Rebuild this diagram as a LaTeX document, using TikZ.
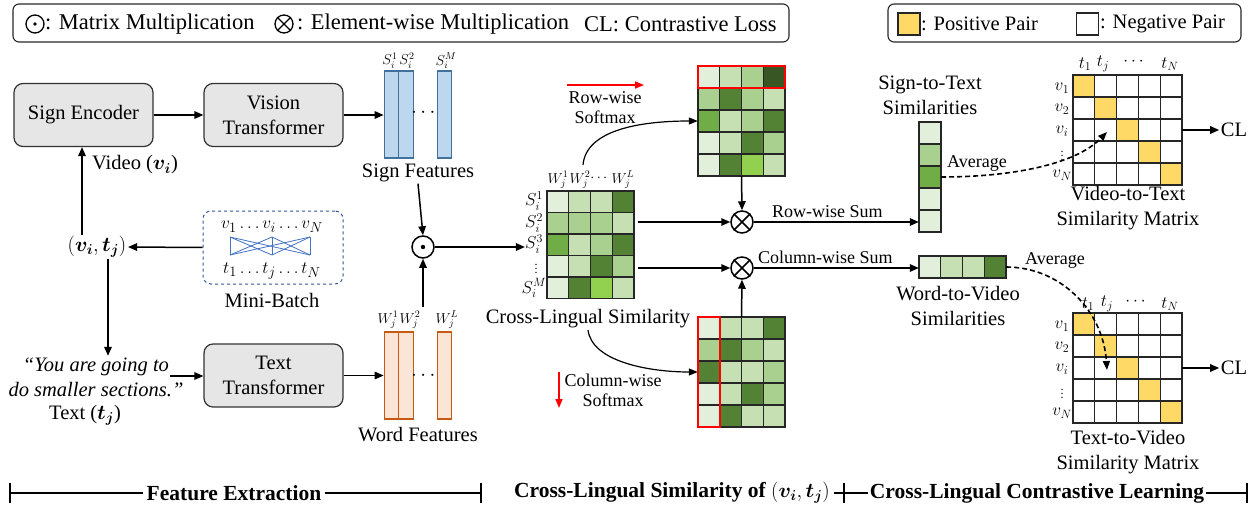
\documentclass[tikz,border=0pt]{standalone}
\usepackage{amsmath}
\usepackage{bm}
\usepackage{fontspec}
\setmainfont{Liberation Serif}
\usetikzlibrary{arrows.meta}
\definecolor{ga}{HTML}{E2EFDA}
\definecolor{gb}{HTML}{C6E0B4}
\definecolor{gc}{HTML}{A9D08E}
\definecolor{gd}{HTML}{70AD47}
\definecolor{ge}{HTML}{548235}
\definecolor{gf}{HTML}{375623}
\definecolor{gl}{HTML}{92D050}
\definecolor{yel}{HTML}{FFD966}
\definecolor{bfill}{HTML}{BDD7EE}
\definecolor{bline}{HTML}{41719C}
\definecolor{ofill}{HTML}{FBE5D6}
\definecolor{oline}{HTML}{C55A11}
\definecolor{boxgray}{HTML}{E6E6E6}
\definecolor{mbblue}{HTML}{2F5597}
\definecolor{lineblue}{HTML}{4472C4}
\newcommand{\fmain}{\fontsize{20.5}{25}\selectfont}
\newcommand{\fsmall}{\fontsize{18}{20}\selectfont}
\newcommand{\flab}{\fontsize{14.4}{17}\selectfont}
\newcommand{\fbig}{\fontsize{17.28}{19}\selectfont}
\newcommand{\fdots}{\fontsize{12}{14}\selectfont}
\newcommand{\flegA}{\fontsize{22.5}{25}\selectfont}
\newcommand{\flegB}{\fontsize{20.5}{24}\selectfont}
\newcommand{\fbar}{\fontsize{21.5}{24}\selectfont\bfseries}
\newcommand{\cellrow}[5]{\foreach \cellc [count=\kk from 0] in {#5} {\draw[cellline, fill=\cellc] ({#1+\kk*#3},#2) rectangle ++(#3,#4);}}
\newcommand{\cellcol}[5]{\foreach \cellc [count=\kk from 0] in {#5} {\draw[cellline, fill=\cellc] (#1,{#2+\kk*#4}) rectangle ++(#3,#4);}}
\newcommand{\simmat}[2]{\foreach \rr in {0,...,4} {\foreach \ccol in {0,...,4} {\ifnum\rr=\ccol\def\cellf{yel}\else\def\cellf{white}\fi \draw[cellline, fill=\cellf] ({#1+\ccol*21.8},{#2+\rr*22}) rectangle ++(21.8,22);}}}
\begin{document}
\begin{tikzpicture}[x=1pt, y=-1pt, font=\fmain, inner sep=1.5pt,
  arr/.style={line width=1.5pt, -{Triangle[length=9pt,width=7.5pt]}},
  thinarr/.style={line width=1.2pt, -{Triangle[length=9pt,width=7pt]}},
  redarr/.style={red, line width=1.6pt, -{Triangle[length=9pt,width=7pt]}},
  dasharr/.style={line width=1.6pt, dash pattern=on 5pt off 3pt, -{Triangle[length=9pt,width=7pt]}},
  blk/.style={draw=black!80, line width=1.2pt, fill=boxgray, rounded corners=9pt, minimum width=139pt, minimum height=63pt, align=center},
  cellline/.style={draw=black!85, line width=1.1pt},
  sbar/.style={draw=bline, fill=bfill, line width=1.2pt, minimum width=14.5pt, minimum height=87pt, inner sep=0pt},
  wbar/.style={draw=oline, fill=ofill, line width=1.2pt, minimum width=14.5pt, minimum height=87pt, inner sep=0pt},
  op/.style={circle, draw, line width=1.5pt, minimum size=22pt, inner sep=0pt},
  lop/.style={circle, draw, line width=1.3pt, minimum size=18pt, inner sep=0pt},
  area/.style={inner sep=0pt},
  lab/.style={font=\flab, inner sep=0pt},
  blab/.style={font=\fbig, inner sep=0pt},
  dlab/.style={font=\fdots, inner sep=0pt},
  legA/.style={font=\flegA, anchor=west, inner sep=0pt},
  legB/.style={font=\flegB, anchor=west, inner sep=0pt},
  legbox/.style={draw=black!85, line width=1.1pt, rounded corners=6pt, inner sep=0pt},
  sm/.style={font=\fsmall, align=center, inner sep=1pt},
  two/.style={align=center},
  bartext/.style={font=\fbar, inner sep=4pt}
]
\useasboundingbox (0,0) rectangle (1259,514);

% ---------------- legends ----------------
\node[legbox, minimum width=776pt, minimum height=38pt] (leg1) at (401,23) {};
\node[lop] (lmm) at (35,24) {};
\fill (lmm.center) circle (1.9);
\node[legA] (lmmt) at (45,24) {: Matrix Multiplication};
\node[lop] (lox) at (284,24) {};
\draw[line width=1.3pt] (lox.north east) -- (lox.south west) (lox.north west) -- (lox.south east);
\node[legA] (loxt) at (297,24) {: Element-wise Multiplication};
\node[legA] (lcl) at (584,24) {CL: Contrastive Loss};

\node[legbox, minimum width=353pt, minimum height=38pt] (leg2) at (1064.5,23) {};
\node[draw=black!85, line width=1.1pt, fill=yel, minimum size=22pt, inner sep=0pt] (lpos) at (909,24) {};
\node[legB] (lpost) at (921,24) {: Positive Pair};
\node[draw=black!85, line width=1.1pt, fill=white, minimum size=22pt, inner sep=0pt] (lneg) at (1087.5,24) {};
\node[legB] (lnegt) at (1100,24) {: Negative Pair};

% ---------------- feature extraction ----------------
\node[blk] (enc) at (83.5,115) {Sign Encoder};
\node[blk] (vit) at (273.5,115) {Vision\\Transformer};
\node[blk] (tt) at (273.5,375.5) {Text\\Transformer};

\node[sbar] (s1) at (391.5,114.5) {};
\node[sbar] (s2) at (406,114.5) {};
\node[sbar] (s3) at (444.5,114.5) {};
\node (sdots) at (425,113) {$\cdots$};
\node[lab] at (390,61) {$S_i^1$};
\node[lab] at (407,61) {$S_i^2$};
\node[lab] at (446,61) {$S_i^M$};
\node (sf) at (418,173) {Sign Features};

\node[wbar] (w1) at (391.5,375.5) {};
\node[wbar] (w2) at (406,375.5) {};
\node[wbar] (w3) at (444.5,375.5) {};
\node (wdots) at (425,376) {$\cdots$};
\node[lab] at (388,320) {$W_j^1$};
\node[lab] at (410,320) {$W_j^2$};
\node[lab] at (447,320) {$W_j^L$};
\node (wf) at (418,435) {Word Features};
\coordinate (wtop) at (423,307);

\node[op] (mm) at (423,247) {};
\fill (mm.center) circle (2.2);

\node (pair) at (97,247) {$(\bm{v_i},\bm{t_j})$};
\node (video) at (135,165) {Video ($\bm{v_i}$)};
\node[two, font=\fmain\itshape] (quote) at (96,377) {“You are going to\\do smaller sections.”};
\node (text) at (85,415) {Text ($\bm{t_j}$)};
\coordinate (qa) at (170,376);

\node[draw=mbblue, dashed, line width=1pt, rounded corners=8pt, minimum width=140pt, minimum height=73pt, inner sep=0pt] (mb) at (273,247.5) {};
\node[font=\fontsize{19}{21}\selectfont] (mbv) at (272,227) {$v_1\ldots v_i\ldots v_N$};
\node[font=\fontsize{19}{21}\selectfont] (mbt) at (272,271) {$t_1\ldots t_j\ldots t_N$};
\foreach \a in {230,272,310} {\foreach \b in {230,272,310} {\draw[lineblue, line width=0.8pt] (\a,237) -- (\b,255);}}
\node (mbl) at (272,300) {Mini-Batch};

\draw[arr] (enc.east) -- (vit.west);
\draw[arr] (vit.east) -- (vit.east -| s1.west);
\draw[arr] (tt.east) -- (tt.east -| w1.west);
\draw[arr] (sf.south) -- (mm.north);
\draw[arr] (wtop) -- (mm.south);
\draw[arr] (pair.north -| 82,0) -- (enc.south -| 82,0);
\draw[arr] (mb.west) -- (pair.east);
\draw[arr] (pair.south -| 108,0) -- (quote.north -| 108,0);
\draw[arr] (qa) -- (tt.west |- qa);

% ---------------- cross-lingual similarity ----------------
\node[area, minimum width=87pt, minimum height=107.5pt] (cm) at (590.5,244.75) {};
\cellrow{547}{191}{21.75}{21.5}{ga,gb,gb,ge}
\cellrow{547}{212.5}{21.75}{21.5}{gc,gc,gc,gb}
\cellrow{547}{234}{21.75}{21.5}{gd,gb,gc,ge}
\cellrow{547}{255.5}{21.75}{21.5}{ga,gb,ge,gc}
\cellrow{547}{277}{21.75}{21.5}{ga,ge,gl,gb}
\node[lab] at (558,180) {$W_j^1$};
\node[lab] at (580,180) {$W_j^2$};
\node[lab] at (600,178) {$\cdots$};
\node[lab] at (623,180) {$W_j^L$};
\node[blab] (cs1) at (534,201) {$S_i^1$};
\node[blab] (cs2) at (534,223) {$S_i^2$};
\node[blab] (cs3) at (534,244) {$S_i^3$};
\node[dlab] (csd) at (536,266) {$\vdots$};
\node[blab] (csm) at (534,288) {$S_i^M$};
\node (cls) at (588,319) {Cross-Lingual Similarity};
\coordinate (ctop) at (583,165);
\draw[arr] (mm.east) -- (mm.east -| cs3.west);

\node[area, minimum width=87pt, minimum height=110pt] (tm) at (741.5,121) {};
\cellrow{698}{66}{21.75}{22}{ga,gb,gc,gf}
\cellrow{698}{88}{21.75}{22}{gc,ge,gc,gb}
\cellrow{698}{110}{21.75}{22}{gd,gb,gc,ge}
\cellrow{698}{132}{21.75}{22}{ga,gb,ge,gc}
\cellrow{698}{154}{21.75}{22}{ga,ge,gl,gb}
\draw[red, line width=1.8pt] (698,66) rectangle (785,88);

\node[area, minimum width=87pt, minimum height=110pt] (bm) at (741.5,372) {};
\cellrow{698}{317}{21.75}{22}{ga,gb,gb,ge}
\cellrow{698}{339}{21.75}{22}{gc,ge,gc,gb}
\cellrow{698}{361}{21.75}{22}{ge,gb,gb,gc}
\cellrow{698}{383}{21.75}{22}{ga,gb,ge,gc}
\cellrow{698}{405}{21.75}{22}{ga,ge,gb,gb}
\draw[red, line width=1.8pt] (698,317) rectangle (719.75,427);

\coordinate (rs1) at (567,85);
\coordinate (rs2) at (644,85);
\draw[redarr] (rs1) -- (rs2);
\node[sm] (rsl) at (605,108) {Row-wise\\Softmax};
\coordinate (cs1a) at (559,372);
\coordinate (cs2a) at (559,408);
\draw[redarr] (cs1a) -- (cs2a);
\node[sm] (csl) at (613,390) {Column-wise\\Softmax};

\draw[thinarr] (ctop) .. controls (586,130) and (640,121) .. (tm.west);
\draw[thinarr] (cls.south) .. controls (592,362) and (650,372) .. (bm.west);

\node[op] (ox1) at (742,222) {};
\draw[line width=1.5pt] (ox1.north east) -- (ox1.south west) (ox1.north west) -- (ox1.south east);
\node[op] (ox2) at (742,268) {};
\draw[line width=1.5pt] (ox2.north east) -- (ox2.south west) (ox2.north west) -- (ox2.south east);

\draw[arr] (tm.south) -- (ox1.north);
\draw[arr] (bm.north) -- (ox2.south);
\draw[arr] ([xshift=4pt]cm.east |- ox1) -- (ox1.west);
\draw[arr] ([xshift=4pt]cm.east |- ox2) -- (ox2.west);

% ---------------- contrastive learning ----------------
\node[area, minimum width=22pt, minimum height=110pt] (stv) at (930,177) {};
\cellcol{919}{122}{22}{22}{ga,gc,gd,ga,ga}
\node[two] (stvl) at (930,95) {Sign-to-Text\\Similarities};

\node[area, minimum width=87pt, minimum height=22pt] (wtv) at (962.5,267) {};
\cellrow{919}{256}{21.75}{22}{ga,gb,gb,ge}
\node[two] (wtvl) at (958,306) {Word-to-Video\\Similarities};

\node[sm, anchor=base west] (rsum) at (771,217) {Row-wise Sum};
\node[sm, anchor=base west] (csum) at (757,263) {Column-wise Sum};
\draw[arr] (ox1.east) -- (stv.west |- ox1);
\draw[arr] (ox2.east) -- (wtv.west |- ox2);

\node[area, minimum width=109pt, minimum height=110pt] (vtt) at (1127.5,130) {};
\simmat{1073}{75}
\node[blab] at (1085,64) {$t_1$};
\node[blab] at (1103,64) {$t_j$};
\node[blab] at (1135,62) {$\cdots$};
\node[blab] at (1170,64) {$t_N$};
\node[blab] at (1062,88) {$v_1$};
\node[blab] at (1062,109) {$v_2$};
\node[blab] at (1062,131) {$v_i$};
\node[dlab] at (1062,153) {$\vdots$};
\node[blab] at (1062,175) {$v_N$};
\node[two] (vttl) at (1128,208) {Video-to-Text\\Similarity Matrix};
\node (cl1) at (1234,130) {CL};
\draw[arr] (vtt.east) -- (cl1.west);

\node[area, minimum width=109pt, minimum height=110pt] (tvt) at (1127.5,368) {};
\simmat{1073}{313}
\node[blab] at (1088,304) {$t_1$};
\node[blab] at (1107,304) {$t_j$};
\node[blab] at (1137,302) {$\cdots$};
\node[blab] at (1170,304) {$t_N$};
\node[blab] at (1062,326) {$v_1$};
\node[blab] at (1062,347) {$v_2$};
\node[blab] at (1062,369) {$v_i$};
\node[dlab] at (1062,391) {$\vdots$};
\node[blab] at (1062,413) {$v_N$};
\node[two] (tvtl) at (1128,452) {Text-to-Video\\Similarity Matrix};
\node (cl2) at (1234,368) {CL};
\draw[arr] (tvt.east) -- (cl2.west);

\coordinate (a1end) at (1107,132);
\coordinate (a2end) at (1107,370);
\node[sm] (avg1) at (977,163) {Average};
\node[sm] (avg2) at (1055,260) {Average};
\draw[dasharr] (stv.east) .. controls (1010,177) and (1075,165) .. (a1end);
\draw[dasharr] (wtv.east) .. controls (1060,267) and (1103,310) .. (a2end);

% ---------------- bottom bar ----------------
\coordinate (t0) at (10,493);
\coordinate (t1) at (481,493);
\coordinate (t2) at (844,493);
\coordinate (t3) at (1247,493);
\node[bartext] (fe) at (234,493) {Feature Extraction};
\node[bartext] (cls2) at (672,493) {Cross-Lingual Similarity of $(\bm{v_i},\bm{t_j})$};
\node[bartext, inner sep=2pt] (ccl) at (1037,493) {Cross-Lingual Contrastive Learning};
\draw[line width=1.5pt] (t0) -- (fe.west) (fe.east) -- (t1) (cls2.east) -- (t2) -- (ccl.west) (ccl.east) -- (t3);
\foreach \t in {t0,t1,t2,t3} {\draw[line width=1.5pt] ([yshift=10pt]\t) -- ([yshift=-10pt]\t);}
\end{tikzpicture}
\end{document}
